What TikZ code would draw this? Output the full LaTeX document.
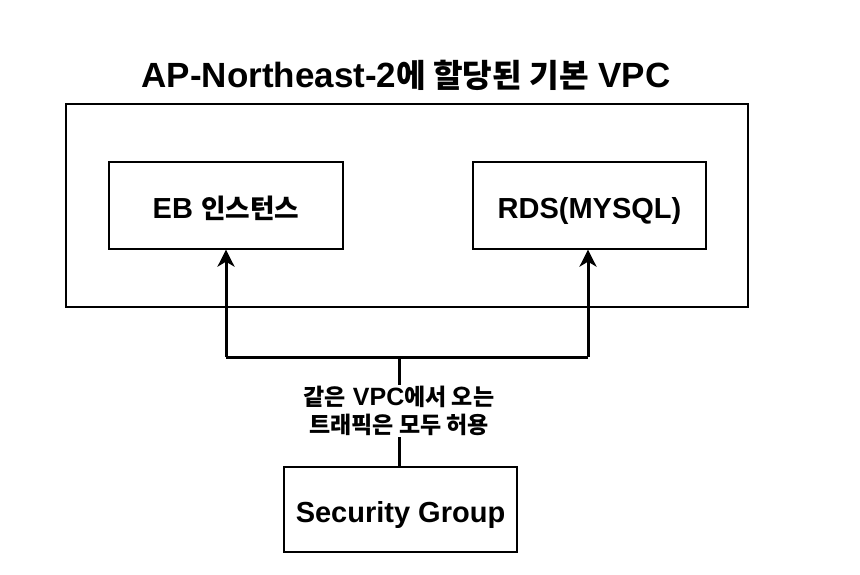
\documentclass[tikz,border=0pt]{standalone}
\usepackage{fontspec}
\setmainfont{Liberation Sans}
\newfontfamily\kr{Noto Sans CJK KR}[Scale=0.92]
\usetikzlibrary{arrows.meta}
\tikzset{
  box/.style={draw=black, line width=1.3pt, fill=white, inner sep=0pt, text height=25pt, text depth=0pt, font=\bfseries\fontsize{29}{33}\selectfont},
  conn/.style={line width=3pt, -{Stealth[length=17pt,width=17pt,inset=5pt]}},
  wire/.style={line width=3pt},
}
\begin{document}
\begin{tikzpicture}[x=1pt,y=-1pt]
\useasboundingbox (0,0) rectangle (860,574);
\node[font=\bfseries\fontsize{35}{40}\selectfont] (title) at (406,75) {AP-Northeast-2{\kr 에 할당된 기본} VPC};
\node[box, minimum width=682pt, minimum height=203pt] (vpc) at (407,205.5) {};
\node[box, minimum width=234pt, minimum height=87pt] (eb) at (226,205.5) {EB {\kr 인스턴스}};
\node[box, minimum width=233pt, minimum height=87pt] (rds) at (589.5,205.5) {RDS(MYSQL)};
\node[box, minimum width=233pt, minimum height=85pt] (sg) at (400.5,509.5) {Security Group};
\coordinate (j) at (399,357);
\coordinate (jl) at (226,357);
\coordinate (jr) at (588,357);
\draw[wire] (sg.north -| j) -- (j);
\draw[wire] (jl) -- (jr);
\draw[conn] (jl) -- (eb.south);
\draw[conn] (jr) -- (rds.south -| jr);
\node[fill=white, align=center, inner sep=1pt, font=\bfseries\fontsize{25}{28}\selectfont] (lbl) at (399,411) {{\kr 같은} VPC{\kr 에서 오는}\\{\kr 트래픽은 모두 허용}};
\end{tikzpicture}
\end{document}
